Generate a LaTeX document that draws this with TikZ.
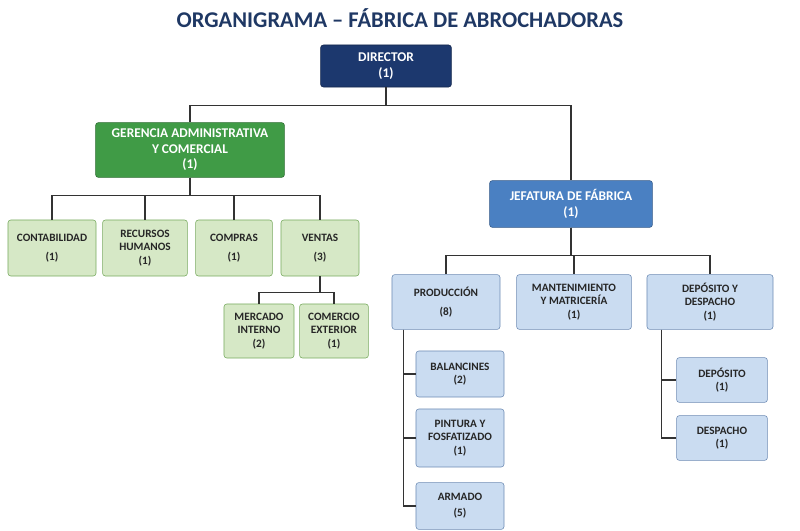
\documentclass[tikz,border=0pt]{standalone}
\usepackage{fontspec}
\setmainfont{Carlito}
\usepackage{tikz}
\usetikzlibrary{positioning,calc}
\definecolor{navy}{RGB}{28,56,110}
\definecolor{titleblue}{RGB}{31,56,100}
\definecolor{gergreen}{RGB}{64,155,70}
\definecolor{jefblue}{RGB}{74,128,194}
\definecolor{lgreen}{RGB}{214,232,198}
\definecolor{lblue}{RGB}{202,220,241}
\definecolor{bgreen}{RGB}{120,170,95}
\definecolor{bblue}{RGB}{110,140,180}

\tikzset{
  box/.style={rectangle, rounded corners=2pt, align=center, font=\bfseries\fontsize{8}{9.5}\selectfont, inner sep=1pt},
  topbox/.style={box, fill=navy, draw=navy!70!black, text=white, font=\bfseries\fontsize{9.5}{11}\selectfont},
  gerbox/.style={box, fill=gergreen, draw=gergreen!70!black, text=white, font=\bfseries\fontsize{9.5}{11}\selectfont},
  jefbox/.style={box, fill=jefblue, draw=jefblue!70!black, text=white, font=\bfseries\fontsize{9.5}{11}\selectfont},
  gbox/.style={box, fill=lgreen, draw=bgreen, text=black!85},
  bbox/.style={box, fill=lblue, draw=bblue, text=black!85},
  link/.style={draw=black!80, thick}
}

\begin{document}
\begin{tikzpicture}[x=0.025cm, y=-0.025cm]
\useasboundingbox (0,0) rectangle (800,531);

% Title
\node[font=\bfseries\fontsize{16}{18}\selectfont, text=titleblue] (title) at (400,18) {ORGANIGRAMA -- FÁBRICA DE ABROCHADORAS};

% Top levels
\node[topbox, minimum width=3.27cm, minimum height=1.05cm] (dir) at (386,66) {DIRECTOR\\(1)};
\node[gerbox, minimum width=4.72cm, minimum height=1.37cm] (ger) at (190,150) {GERENCIA ADMINISTRATIVA\\Y COMERCIAL\\(1)};
\node[jefbox, minimum width=4.07cm, minimum height=1.17cm] (jef) at (571,204) {JEFATURA DE FÁBRICA\\(1)};

% Administration
\node[gbox, minimum width=2.2cm, minimum height=1.4cm] (cont) at (52,248) {CONTABILIDAD\\[4pt](1)};
\node[gbox, minimum width=2.12cm, minimum height=1.4cm] (rrhh) at (145,248) {RECURSOS\\HUMANOS\\(1)};
\node[gbox, minimum width=1.92cm, minimum height=1.4cm] (comp) at (234,248) {COMPRAS\\[4pt](1)};
\node[gbox, minimum width=1.95cm, minimum height=1.4cm] (vent) at (320,248) {VENTAS\\[4pt](3)};
\node[gbox, minimum width=1.75cm, minimum height=1.35cm] (merc) at (259,331) {MERCADO\\INTERNO\\(2)};
\node[gbox, minimum width=1.72cm, minimum height=1.35cm] (come) at (334,331) {COMERCIO\\EXTERIOR\\(1)};

% Factory
\node[bbox, minimum width=2.7cm, minimum height=1.37cm] (prod) at (446,302) {PRODUCCIÓN\\[4pt](8)};
\node[bbox, minimum width=2.87cm, minimum height=1.37cm] (mant) at (574,302) {MANTENIMIENTO\\Y MATRICERÍA\\(1)};
\node[bbox, minimum width=3.15cm, minimum height=1.37cm] (depd) at (710,302) {DEPÓSITO Y\\DESPACHO\\(1)};
\node[bbox, minimum width=2.2cm, minimum height=1.15cm] (bal) at (460,374) {BALANCINES\\(2)};
\node[bbox, minimum width=2.2cm, minimum height=1.45cm] (pint) at (460,438) {PINTURA Y\\FOSFATIZADO\\(1)};
\node[bbox, minimum width=2.2cm, minimum height=1.17cm] (arm) at (460,506) {ARMADO\\[2pt](5)};
\node[bbox, minimum width=2.27cm, minimum height=1.12cm] (dep) at (722,380) {DEPÓSITO\\(1)};
\node[bbox, minimum width=2.27cm, minimum height=1.12cm] (desp) at (722,438) {DESPACHO\\(1)};

% Connectors
\draw[link] (dir.south) -- ++(0,18) -| (ger.north);
\draw[link] (dir.south) -- ++(0,18) -| (jef.north);
\foreach \n in {cont,rrhh,comp,vent}
  \draw[link] (ger.south) -- ++(0,18) -| (\n.north);
\foreach \n in {merc,come}
  \draw[link] (vent.south) -- ++(0,16) -| (\n.north);
\foreach \n in {prod,mant,depd}
  \draw[link] (jef.south) -- ++(0,28) -| (\n.north);
\foreach \n in {bal,pint,arm}
  \draw[link] ([xshift=0.3cm]prod.south west) |- (\n.west);
\foreach \n in {dep,desp}
  \draw[link] ([xshift=0.375cm]depd.south west) |- (\n.west);

\end{tikzpicture}
\end{document}
